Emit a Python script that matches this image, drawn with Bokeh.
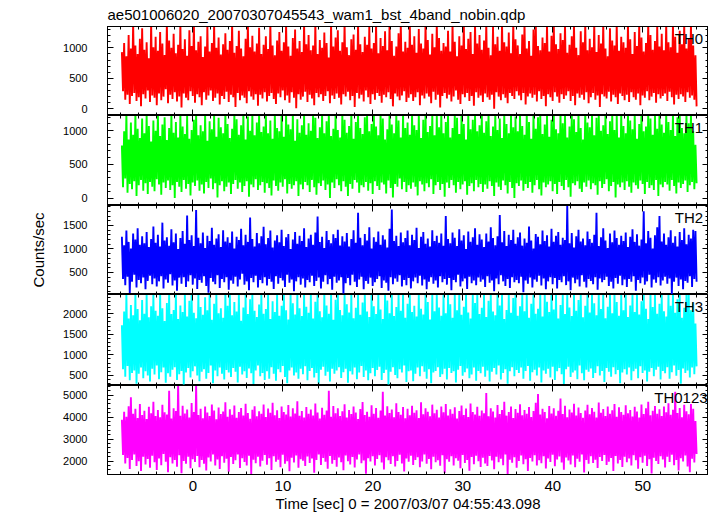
import numpy as np
from bokeh.plotting import figure
from bokeh.layouts import column
from bokeh.models import LinearAxis, FixedTicker, Label, Range1d
from bokeh.embed import file_html
from bokeh.resources import INLINE

title_text = "ae501006020_20070307045543_wam1_bst_4band_nobin.qdp"
x_label = "Time [sec] 0 = 2007/03/07 04:55:43.098"
y_label = "Counts/sec"
band_names = ["TH0", "TH1", "TH2", "TH3", "TH0123"]
band_colors = ["#ff0000", "#00ff00", "#0000ff", "#00ffff", "#ff00ff"]

# first 0.25 s bin (s); each bin holds the peak then the trough
bin_start = -7.9
bin_width = 0.25

th0_hi = [930, 1080, 860, 1210, 990, 1400, 1040, 900, 1150, 1320, 970, 1090, 830, 1400, 1010, 1180,
          950, 1260, 1070, 880, 1400, 1120, 1000, 1230, 910, 1050, 1400, 980, 1140, 870, 1290, 1030,
          1400, 960, 1100, 1190, 850, 1020, 1350, 940, 1080, 1400, 1000, 1170, 890, 1060, 1240, 970,
          1110, 1400, 920, 1030, 1280, 990, 860, 1150, 1400, 1010, 1200, 940, 1070, 1330, 900, 1050,
          1190, 980, 1400, 1040, 880, 1120, 1260, 950, 1090, 1400, 1020, 870, 1160, 1300, 990, 1110,
          930, 1400, 1060, 1210, 960, 1040, 1400, 900, 1130, 1000, 1250, 1080, 840, 1400, 1020, 1170,
          1290, 950, 1090, 1400, 1010, 880, 1140, 1220, 970, 1400, 1060, 930, 1180, 1050, 1370, 990,
          1080, 1400, 910, 1160, 1030, 1270, 960, 1400, 1110, 870, 1020, 1240, 1400, 940, 1100, 1000,
          1400, 1050, 1190, 920, 1310, 1070, 990, 1400, 1130, 890, 1230, 1010, 1400, 1160, 950, 1080,
          1020, 1280, 940, 1400, 1100, 860, 1190, 1040, 1400, 980, 1150, 1260, 900, 1400, 1070, 1210,
          970, 1120, 1400, 1000, 880, 1340, 1060, 1180, 950, 1400, 1090, 1020, 1250, 910, 1400, 1140,
          1040, 900, 1220, 1400, 990, 1110, 870, 1300, 1400, 1030, 960, 1170, 1080, 1400, 940, 1200,
          1400, 1060, 980, 1240, 1130, 1400, 920, 1050, 1190, 1400, 1000, 880, 1270, 1090, 1400, 960,
          1150, 1010, 1400, 930, 1210, 1070, 1400, 990, 860, 1320, 1120, 1040, 1400, 950, 1180, 1090,
          1000, 1400, 1140, 900, 1260, 1030, 1400, 1170, 940, 1080, 1400, 1210, 970, 1110, 1350, 1020,
          1230, 960, 1400, 1090, 1010, 1400, 1180, 920, 1280, 1060, 1400, 990, 1150, 1400, 1040, 880]
th0_lo = [290, 150, 230, 80, 210, 260, 130, 190, 40, 240, 170, 300, 110, 220, 180, 60,
          250, 140, 200, 320, 90, 230, 160, 270, 120, 200, 20, 250, 180, 140, 290, 210,
          100, 240, 190, 60, 270, 150, 220, 300, 130, 180, 250, 70, 210, 160, 280, 110,
          230, 190, 30, 260, 140, 220, 180, 90, 290, 200, 150, 240, 50, 230, 170, 270,
          120, 210, 260, 160, 80, 250, 190, 300, 140, 220, 100, 270, 180, 10, 240, 150,
          200, 280, 110, 230, 170, 60, 260, 190, 240, 130, 210, 290, 90, 220, 160, 250,
          180, 70, 240, 200, 280, 140, 210, 30, 260, 170, 230, 120, 300, 190, 80, 240,
          150, 260, 210, 100, 230, 190, 270, 160, 40, 250, 200, 140, 220, 290, 110, 180,
          240, 130, 190, 270, 60, 220, 170, 250, 200, 90, 280, 150, 230, 20, 210, 260,
          170, 230, 120, 200, 300, 150, 80, 240, 190, 260, 130, 210, 50, 270, 180, 220,
          110, 250, 190, 150, 230, 0, 270, 200, 140, 240, 180, 90, 260, 210, 160, 290,
          220, 140, 260, 70, 200, 250, 180, 230, 120, 290, 160, 210, 40, 240, 190, 130,
          270, 200, 100, 240, 160, 220, 290, 130, 210, 60, 250, 180, 230, 150, 270, 90,
          190, 260, 150, 220, 30, 240, 200, 170, 280, 120, 230, 190, 80, 250, 210, 140,
          230, 110, 270, 190, 150, 250, 60, 220, 180, 290, 140, 200, 260, 100, 240, 170,
          210, 250, 130, 280, 190, 70, 230, 160, 240, 200, 110, 270, 180, 220, 150, 40]

th1_hi = [780, 990, 1250, 870, 1120, 940, 1250, 1030, 890, 1180, 960, 1250, 1070, 840, 1150, 1000,
          1250, 920, 1090, 1200, 860, 1040, 1250, 970, 1130, 900, 1250, 1060, 950, 1220, 880, 1010,
          1160, 1250, 930, 1080, 990, 1250, 850, 1140, 1020, 1250, 910, 1190, 1050, 960, 1250, 1100,
          890, 1030, 1250, 1170, 940, 1080, 1250, 870, 1210, 1000, 1250, 930, 1120, 1250, 980, 1060,
          1250, 960, 1150, 880, 1250, 1040, 990, 1230, 910, 1250, 1090, 1020, 1250, 850, 1170, 970,
          1080, 1250, 940, 1110, 1000, 1250, 1190, 890, 1050, 1250, 960, 1140, 1250, 920, 1030, 1250,
          1010, 900, 1250, 1160, 970, 1070, 1250, 880, 1130, 1250, 1040, 950, 1200, 1250, 990, 1100,
          1250, 1060, 930, 1250, 1180, 870, 1020, 1250, 1090, 960, 1250, 1150, 900, 1250, 1040, 1120,
          940, 1250, 1080, 1010, 1250, 890, 1160, 1250, 980, 1070, 1250, 930, 1220, 1050, 1250, 960,
          1130, 1250, 900, 1040, 1250, 1190, 950, 1250, 1100, 870, 1250, 1020, 1160, 1250, 990, 1080,
          1250, 970, 1140, 1250, 920, 1060, 1250, 1010, 1180, 890, 1250, 1100, 960, 1250, 1050, 1210,
          990, 1250, 1070, 940, 1250, 1130, 880, 1250, 1030, 1200, 1250, 950, 1090, 1250, 910, 1160,
          1250, 1020, 960, 1250, 1110, 1250, 900, 1060, 1250, 1170, 980, 1250, 1040, 870, 1250, 1120,
          1050, 1250, 930, 1190, 1250, 1000, 1080, 1250, 950, 1140, 1250, 1010, 1230, 900, 1250, 1070,
          960, 1250, 1150, 1020, 1250, 880, 1100, 1250, 990, 1060, 1250, 1180, 940, 1250, 1030, 1250,
          1090, 970, 1250, 1130, 1010, 1250, 920, 1200, 1250, 1040, 960, 1250, 1110, 1250, 990, 790]
th1_lo = [160, 290, 80, 210, 130, 250, 30, 190, 270, 110, 220, 60, 240, 170, 100, 280,
          200, 50, 230, 150, 260, 120, 190, 0, 240, 170, 90, 270, 140, 210, 40, 230,
          180, 260, 110, 200, 70, 240, 150, 290, 130, 220, 10, 190, 250, 100, 170, 230,
          60, 210, 270, 140, 230, 90, 180, 250, 20, 200, 160, 280, 120, 190, 240, 80,
          220, 150, 40, 260, 180, 110, 230, 170, 280, 70, 210, 140, 190, 250, 30, 200,
          130, 240, 190, 90, 270, 160, 50, 220, 180, 260, 120, 200, 0, 230, 150, 280,
          190, 100, 250, 170, 30, 210, 140, 270, 230, 80, 190, 160, 240, 110, 220, 60,
          250, 180, 120, 230, 200, 70, 260, 150, 10, 210, 170, 290, 130, 240, 90, 190,
          140, 230, 170, 40, 250, 200, 100, 220, 160, 280, 60, 190, 240, 120, 210, 20,
          230, 150, 270, 190, 80, 240, 130, 200, 250, 50, 180, 220, 100, 270, 160, 210,
          90, 200, 140, 250, 180, 30, 230, 170, 120, 260, 190, 70, 240, 150, 0, 220,
          180, 260, 110, 210, 150, 240, 80, 190, 270, 130, 40, 230, 160, 200, 250, 100,
          210, 60, 240, 180, 120, 270, 160, 20, 220, 190, 250, 140, 90, 230, 170, 260,
          130, 220, 190, 50, 250, 150, 210, 280, 100, 180, 240, 10, 200, 160, 230, 120,
          250, 170, 80, 230, 190, 140, 260, 210, 60, 240, 150, 190, 120, 270, 30, 200,
          160, 240, 200, 110, 270, 180, 70, 230, 150, 210, 260, 90, 190, 240, 130, 220]

th2_hi = [1260, 1080, 1390, 1150, 1010, 1330, 1200, 1440, 1090, 1270, 1120, 1360, 1040, 1210, 1480, 1130,
          1300, 1050, 1560, 1180, 1250, 1070, 1420, 1140, 1330, 1000, 1230, 1380, 1110, 1710, 1190, 1290,
          1060, 1830, 1240, 1120, 1350, 1020, 1280, 1170, 1450, 1090, 1220, 1310, 1040, 1400, 1160, 1250,
          1130, 1370, 1010, 1260, 1190, 1430, 1080, 1300, 1150, 1670, 1210, 1050, 1340, 1120, 1270, 1470,
          1100, 1230, 1390, 1030, 1180, 1290, 1140, 1410, 1060, 1250, 1320, 1000, 1200, 1360, 1110, 1280,
          1170, 1440, 1040, 1220, 1300, 1090, 1350, 1690, 1150, 1260, 1020, 1380, 1190, 1120, 1310, 1230,
          1410, 1070, 1270, 1160, 1340, 1050, 1210, 1400, 1130, 1770, 1240, 1080, 1320, 1180, 1460, 1010,
          1250, 1150, 1370, 1090, 1290, 1200, 1030, 1430, 1840, 1170, 1280, 1060, 1350, 1140, 1230, 1390,
          1080, 1300, 1190, 1450, 1020, 1260, 1360, 1110, 1220, 1050, 1400, 1170, 1280, 1130, 1330, 1070,
          1700, 1210, 1120, 1350, 1240, 1060, 1420, 1180, 1290, 1000, 1370, 1150, 1250, 1440, 1090, 1310,
          1200, 1040, 1330, 1160, 1460, 1230, 1080, 1270, 1720, 1140, 1380, 1060, 1300, 1190, 1410, 1110,
          1250, 1350, 1070, 1220, 1130, 1480, 1180, 1010, 1320, 1260, 1100, 1390, 1170, 1290, 1050, 1430,
          1150, 1280, 1360, 1090, 1240, 1190, 1920, 1120, 1340, 1030, 1270, 1410, 1160, 1220, 1080, 1370,
          1210, 1130, 1300, 1770, 1060, 1250, 1440, 1180, 1020, 1330, 1140, 1390, 1230, 1090, 1280, 1170,
          1350, 1040, 1260, 1420, 1150, 1310, 1070, 1200, 1800, 1120, 1380, 1240, 1010, 1290, 1460, 1700,
          1160, 1330, 1090, 1250, 1400, 1130, 1270, 1050, 1360, 1190, 1440, 1100, 1300, 1220, 1410, 1380]
th2_lo = [360, 230, 410, 60, 300, 450, 180, 340, 270, 390, 140, 320, 430, 250, 370, 200,
          310, 420, 160, 350, 280, 460, 220, 330, 110, 390, 260, 400, 190, 310, 440, 240,
          370, 150, 340, 280, 420, 210, 70, 380, 300, 250, 440, 170, 360, 290, 400, 130,
          330, 260, 410, 200, 350, 470, 240, 310, 120, 380, 290, 430, 180, 340, 270, 400,
          220, 360, 300, 150, 420, 260, 380, 330, 190, 450, 280, 350, 100, 310, 400, 240,
          370, 180, 340, 290, 430, 210, 320, 390, 160, 300, 440, 250, 360, 130, 410, 280,
          330, 400, 50, 270, 380, 230, 450, 300, 190, 350, 410, 140, 320, 260, 390, 210,
          290, 360, 420, 170, 330, 280, 110, 400, 250, 370, 300, 440, 200, 340, 230, 380,
          160, 310, 390, 270, 430, 220, 350, 140, 300, 400, 260, 330, 180, 420, 290, 360,
          240, 380, 120, 340, 290, 450, 200, 310, 370, 150, 410, 270, 330, 230, 390, 300,
          350, 190, 420, 280, 330, 100, 370, 250, 440, 310, 210, 360, 170, 400, 290, 340,
          270, 410, 80, 330, 260, 390, 180, 350, 300, 430, 220, 370, 140, 310, 400, 250,
          380, 160, 340, 290, 420, 230, 310, 120, 390, 270, 350, 200, 440, 300, 180, 360,
          320, 250, 400, 130, 370, 290, 340, 410, 210, 300, 160, 380, 260, 430, 230, 350,
          190, 360, 300, 420, 110, 340, 270, 390, 240, 310, 450, 180, 350, 280, 400, 220,
          330, 410, 260, 370, 40, 300, 390, 210, 350, 140, 320, 280, 420, 190, 360, 300]

th3_hi = [1720, 2050, 2470, 1880, 2210, 1960, 2470, 2110, 1840, 2330, 2000, 2470, 1910, 2180, 2470, 2070,
          1950, 2470, 2130, 1820, 2260, 2470, 1990, 2090, 2470, 1870, 2200, 2040, 2470, 1930, 2310, 2470,
          2020, 1890, 2470, 2160, 1970, 2400, 2080, 2470, 1850, 2240, 2470, 2010, 2130, 1900, 2470, 2190,
          2470, 1960, 2280, 2050, 2470, 1830, 2150, 2470, 1990, 2350, 2470, 2070, 1920, 2220, 2470, 2000,
          2110, 2470, 1870, 2300, 2040, 2470, 1950, 2190, 2470, 2080, 1860, 2470, 2250, 1980, 2470, 2130,
          1940, 2470, 2170, 2020, 2470, 1880, 2290, 2470, 2060, 1910, 2470, 2200, 2000, 2470, 1850, 2340,
          2470, 2090, 1960, 2470, 2230, 2030, 2470, 1890, 2140, 2470, 1970, 2270, 2470, 2050, 1920, 2470,
          2180, 1990, 2470, 2100, 1870, 2470, 2320, 2010, 2470, 1940, 2160, 2470, 2070, 2470, 1900, 2240,
          2470, 2040, 2190, 1930, 2470, 2120, 1980, 2470, 2280, 1860, 2470, 2060, 2470, 2150, 1950, 2470,
          2010, 2470, 2230, 1900, 2470, 2080, 2470, 1970, 2170, 2470, 2030, 1880, 2470, 2260, 2470, 1990,
          2140, 2470, 1920, 2310, 2470, 2050, 1960, 2470, 2200, 2470, 1870, 2090, 2470, 2020, 2380, 2470,
          1950, 2180, 2470, 2060, 2470, 1900, 2240, 2470, 2000, 2120, 2470, 1930, 2470, 2290, 2040, 2470,
          2100, 2470, 1880, 2210, 2470, 1990, 2470, 2150, 1940, 2470, 2070, 2330, 2470, 1910, 2190, 2470,
          2030, 2470, 2250, 1960, 2470, 2110, 2470, 1890, 2170, 2470, 2010, 2470, 2280, 1950, 2470, 2080,
          2470, 1920, 2200, 2470, 2040, 2470, 1980, 2300, 2470, 2120, 1870, 2470, 2160, 2470, 2000, 2240,
          2470, 2060, 1930, 2470, 2190, 2470, 2020, 2350, 2470, 1900, 2140, 2470, 2470, 2080, 2270, 1760]
th3_lo = [650, 470, 730, 380, 560, 620, 300, 540, 690, 430, 600, 500, 350, 660, 520, 740,
          410, 580, 690, 320, 550, 470, 640, 700, 390, 530, 610, 280, 570, 680, 450, 600,
          720, 500, 360, 590, 650, 420, 560, 740, 310, 620, 480, 690, 540, 400, 630, 570,
          460, 680, 590, 330, 710, 520, 600, 440, 670, 550, 290, 620, 740, 480, 560, 390,
          600, 420, 700, 540, 370, 650, 580, 730, 460, 310, 620, 690, 500, 570, 420, 660,
          530, 720, 380, 610, 680, 450, 560, 300, 640, 710, 490, 590, 350, 660, 540, 620,
          700, 440, 580, 660, 320, 600, 520, 690, 410, 570, 730, 460, 620, 380, 550, 680,
          480, 630, 710, 390, 560, 640, 280, 590, 700, 510, 430, 650, 570, 740, 340, 600,
          620, 360, 540, 690, 480, 720, 590, 420, 650, 310, 570, 610, 700, 460, 530, 660,
          400, 680, 560, 600, 330, 640, 730, 490, 580, 670, 430, 520, 690, 370, 610, 550,
          710, 470, 620, 350, 590, 680, 520, 740, 400, 560, 650, 300, 600, 700, 480, 630,
          560, 690, 420, 610, 730, 370, 580, 640, 500, 690, 330, 620, 540, 660, 450, 710,
          390, 600, 680, 530, 290, 650, 710, 460, 570, 620, 410, 740, 550, 380, 640, 590,
          670, 440, 560, 720, 500, 610, 340, 680, 590, 470, 700, 530, 630, 310, 570, 650,
          520, 690, 380, 600, 660, 430, 720, 560, 620, 350, 590, 680, 480, 640, 710, 400,
          610, 550, 700, 420, 580, 740, 490, 630, 300, 670, 560, 620, 450, 690, 530, 720]

th0123_hi = [3880, 4250, 4020, 4500, 4900, 4150, 4380, 3960, 4600, 4100, 4290, 3920, 4470, 4180, 4700, 4050,
             4330, 4000, 4560, 4220, 4120, 5200, 3940, 4410, 4280, 5500, 4060, 4520, 4170, 4350, 3990, 4640,
             4230, 5450, 4100, 4380, 3950, 4490, 4210, 4050, 4580, 4300, 3900, 4440, 4140, 4260, 4680, 4020,
             4360, 4110, 4530, 3970, 4240, 4420, 4080, 4610, 4190, 3930, 4340, 4500, 4040, 4270, 4150, 4570,
             4010, 4390, 4200, 4660, 4090, 4310, 3960, 4480, 4230, 4120, 4550, 4030, 4400, 4170, 4720, 4060,
             4280, 3990, 4460, 4150, 4350, 4070, 4620, 4210, 3940, 4430, 4110, 4300, 5200, 4020, 4510, 4180,
             4400, 4050, 4270, 4590, 3980, 4330, 4140, 4480, 4210, 3920, 4370, 4690, 4100, 4250, 4020, 4540,
             4160, 4420, 3970, 4300, 5150, 4080, 4500, 4190, 4350, 4000, 4630, 4240, 4110, 4460, 3950, 4380,
             4090, 4520, 4200, 4310, 3960, 4680, 4130, 4400, 4250, 4040, 4570, 4180, 4340, 3990, 4490, 4220,
             4600, 4070, 4360, 4150, 4450, 3940, 4280, 4530, 4100, 4390, 4010, 4620, 4230, 4120, 4470, 4060,
             4300, 4180, 5100, 4040, 4410, 4260, 3980, 4550, 4140, 4320, 4700, 4070, 4240, 4480, 3960, 4370,
             4200, 4590, 4090, 4330, 4160, 4460, 4010, 4280, 4650, 5050, 4120, 4380, 4230, 3950, 4510, 4170,
             4400, 4060, 4290, 4850, 4140, 4520, 4000, 4350, 4210, 4610, 4080, 4440, 4190, 3970, 4300, 4560,
             4130, 4420, 4250, 3980, 4670, 4200, 4370, 4050, 4490, 4160, 4310, 4600, 4020, 4450, 4240, 4110,
             4540, 4180, 4320, 4030, 4470, 4260, 3990, 4580, 4140, 4410, 4700, 4090, 4290, 4510, 4150, 4360,
             4050, 4480, 4220, 4630, 4110, 4340, 5150, 4190, 4420, 4000, 4560, 4270, 4130, 4600, 4380, 3820]
th0123_lo = [2280, 1900, 2150, 1650, 2050, 2300, 1780, 2000, 1550, 2200, 1850, 2100, 1700, 2250, 1950, 1600,
             2120, 1820, 2330, 1980, 1500, 2180, 1900, 2060, 1750, 2270, 1450, 2010, 1880, 2200, 1680, 2090,
             1960, 2240, 1720, 2050, 1880, 1580, 2170, 1990, 2300, 1800, 2080, 1650, 2220, 1930, 2110, 1520,
             2190, 1870, 2040, 2310, 1690, 2130, 1960, 1800, 2250, 1420, 2070, 1910, 2200, 1760, 2020, 2280,
             1840, 2140, 1600, 2230, 1980, 2070, 1730, 2290, 1890, 2000, 1540, 2160, 1940, 2260, 1700, 2090,
             2020, 1780, 2210, 1920, 2120, 1480, 2050, 2310, 1830, 2150, 1970, 1660, 2240, 1880, 2060, 1750,
             2170, 1950, 1590, 2260, 2000, 1850, 2190, 1710, 2080, 2300, 1910, 2030, 1430, 2140, 1990, 2220,
             1800, 2100, 2270, 1940, 1620, 2180, 2040, 1870, 2230, 1760, 2010, 2290, 1900, 1530, 2120, 1980,
             2250, 1830, 2060, 2180, 1720, 1990, 2310, 1880, 2100, 1640, 2200, 1950, 2040, 1790, 2270, 1460,
             2090, 1970, 2230, 1810, 2140, 2020, 1680, 2280, 1920, 2060, 1570, 2190, 1860, 2250, 2000, 1740,
             2160, 1900, 1780, 2240, 2030, 1630, 2200, 1950, 2110, 1820, 2300, 1400, 2070, 1930, 2180, 1700,
             2010, 2260, 1860, 2090, 1560, 2150, 1990, 2270, 1800, 2040, 1910, 2220, 1670, 2120, 1960, 2290,
             1770, 2080, 2210, 1940, 1610, 2170, 2030, 1850, 2260, 1720, 2110, 1980, 2300, 1490, 2050, 1890,
             2230, 1920, 2070, 1690, 2190, 2010, 2280, 1830, 1980, 2150, 1550, 2240, 1900, 2060, 1740, 2200,
             1950, 2120, 1800, 2270, 2040, 1660, 2180, 1930, 2250, 1780, 2090, 1440, 2160, 2010, 1870, 2230,
             2080, 1710, 2200, 1960, 2290, 1820, 2050, 1580, 2140, 1990, 2260, 1760, 1500, 2110, 1940, 2330]

series_hi = [th0_hi, th1_hi, th2_hi, th3_hi, th0123_hi]
series_lo = [th0_lo, th1_lo, th2_lo, th3_lo, th0123_lo]

x_range = (-9.5, 57.3)
x_major = [-10, 0, 10, 20, 30, 40, 50]
x_minor = list(range(-10, 58, 2))
y_ranges = [(-110, 1350), (-110, 1225), (30, 1925), (255, 2465), (1395, 5440)]
y_major = [[0, 500, 1000], [0, 500, 1000], [500, 1000, 1500],
           [500, 1000, 1500, 2000], [2000, 3000, 4000, 5000]]
y_minor = [list(range(-100, 1400, 100)), list(range(-100, 1300, 100)),
           list(range(0, 2000, 100)), list(range(200, 2500, 100)),
           list(range(1400, 5600, 200))]
label_x = [56.7, 56.7, 56.7, 56.7, 57.2]

FONT = "Liberation Sans"
frame_heights = [89, 90, 89, 91, 89]


def labelled_axis(ticker, font_size, standoff):
    ax = LinearAxis(ticker=ticker)
    ax.major_tick_in = 6
    ax.major_tick_out = 0
    ax.minor_tick_in = 3
    ax.minor_tick_out = 0
    ax.axis_line_color = "black"
    ax.major_tick_line_color = "black"
    ax.minor_tick_line_color = "black"
    ax.major_label_text_font = FONT
    ax.major_label_text_color = "black"
    ax.major_label_text_font_size = font_size
    ax.major_label_standoff = standoff
    return ax


def tick_only_axes(p, side, major, minor):
    # unlabelled frame edges: one axis for the short ticks, one for the long ticks
    for ticks, length in ((minor, 3), (major, 6)):
        ax = LinearAxis(ticker=FixedTicker(ticks=[], minor_ticks=ticks))
        ax.major_tick_in = 0
        ax.major_tick_out = 0
        ax.minor_tick_in = length
        ax.minor_tick_out = 0
        ax.major_label_standoff = 0
        ax.axis_line_color = "black"
        ax.minor_tick_line_color = "black"
        p.add_layout(ax, side)


panels = []
for k in range(5):
    hi = np.asarray(series_hi[k], dtype=float)
    lo = np.asarray(series_lo[k], dtype=float)
    n = len(hi)
    t_hi = bin_start + bin_width * np.arange(n)
    t_lo = t_hi + bin_width / 2
    xs = np.empty(2 * n)
    ys = np.empty(2 * n)
    xs[0::2] = t_hi
    xs[1::2] = t_lo
    ys[0::2] = hi
    ys[1::2] = lo

    p = figure(frame_width=601, frame_height=frame_heights[k],
               x_range=Range1d(*x_range), y_range=Range1d(*y_ranges[k]),
               output_backend="svg", toolbar_location=None,
               x_axis_location=None, y_axis_location=None,
               min_border_left=107, min_border_right=0,
               min_border_top=0, min_border_bottom=0,
               outline_line_color="black", outline_line_width=1,
               background_fill_color="white", border_fill_color="white")
    p.grid.visible = False

    p.line(xs, ys, line_color=band_colors[k], line_width=1.9)

    yt = FixedTicker(ticks=y_major[k], minor_ticks=y_minor[k])
    left = labelled_axis(yt, "11px", 20)
    if k == 2:
        left.axis_label = y_label
        left.axis_label_text_font = FONT
        left.axis_label_text_font_size = "15px"
        left.axis_label_text_font_style = "normal"
        left.axis_label_text_color = "black"
        left.axis_label_standoff = 13
    p.add_layout(left, "left")

    tick_only_axes(p, "right", y_major[k], y_minor[k])
    tick_only_axes(p, "above", x_major, x_minor)

    if k == 4:
        bottom = labelled_axis(FixedTicker(ticks=x_major, minor_ticks=x_minor), "15px", 6)
        bottom.axis_label = x_label
        bottom.axis_label_text_font = FONT
        bottom.axis_label_text_font_size = "15px"
        bottom.axis_label_text_font_style = "normal"
        bottom.axis_label_text_color = "black"
        bottom.axis_label_standoff = 1
        p.add_layout(bottom, "below")
    else:
        tick_only_axes(p, "below", x_major, x_minor)

    p.add_layout(Label(x=label_x[k], y=y_ranges[k][1], text=band_names[k],
                       text_align="right", text_baseline="top", y_offset=-3,
                       text_font=FONT, text_font_size="15px", text_color="black"))

    if k == 0:
        p.title.text = title_text
        p.title.text_font = FONT
        p.title.text_font_size = "15px"
        p.title.text_font_style = "normal"
        p.title.text_color = "black"
        p.title.align = "left"
        p.title.standoff = 7
    panels.append(p)

layout = column(*panels, spacing=0)
open("out.html", "w").write(file_html(layout, INLINE))
